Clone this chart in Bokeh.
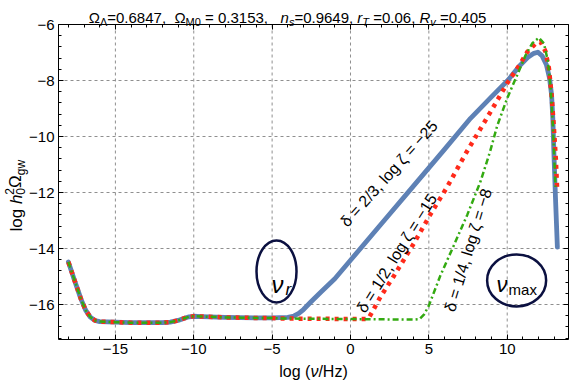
from bokeh.plotting import figure
from bokeh.models import Range1d, FixedTicker, LinearAxis, Label
from bokeh.embed import file_html
from bokeh.resources import INLINE

# ---------------- data ----------------
# common low-frequency part (all three curves coincide)
nu_low = [-18.0, -17.6, -17.2, -16.9, -16.6, -16.3, -16.0, -15.0, -14.0, -13.0,
          -12.0, -11.5, -11.0, -10.6, -10.3, -10.0, -9.5, -8.0, -7.0, -6.0, -5.0]
om_low = [-14.48, -15.15, -15.8, -16.2, -16.45, -16.57, -16.61, -16.63, -16.65, -16.65,
          -16.65, -16.63, -16.57, -16.49, -16.44, -16.42, -16.43, -16.46, -16.47, -16.48, -16.48]

# delta = 2/3, log zeta = -25
nu_blue = [-4.5, -4.0, -3.6, -3.3, -3.0, -2.55, -1.9, -1.0, 0.0, 2.0, 4.0, 6.0, 7.66, 8.93,
           10.0, 10.85, 11.3, 11.7, 11.95, 12.23, 12.5, 12.7, 12.83, 12.91, 12.98, 13.08, 13.2]
om_blue = [-16.47, -16.46, -16.41, -16.32, -16.18, -15.92, -15.56, -15.08, -14.42, -13.1, -11.78, -10.46, -9.35, -8.62,
           -8.02, -7.44, -7.18, -7.03, -6.99, -7.12, -7.44, -7.92, -8.51, -9.35, -10.6, -12.2, -13.95]

# delta = 1/2, log zeta = -15
nu_red = [-4.5, -2.0, 0.0, 1.0, 1.2, 1.4, 1.91, 2.77, 4.04, 5.1, 6.17, 7.34, 8.51, 9.26,
          10.0, 10.85, 11.28, 11.81, 12.13, 12.44, 12.66, 12.83, 12.98, 13.1, 13.18]
om_red = [-16.5, -16.51, -16.52, -16.52, -16.45, -16.25, -15.73, -14.98, -13.82, -12.78, -11.8, -10.62, -9.52, -8.81,
          -8.1, -7.39, -6.98, -6.68, -6.62, -6.96, -7.56, -8.51, -9.7, -10.78, -11.8]

# delta = 1/4, log zeta = -8
nu_green = [-4.5, 0.0, 2.0, 4.0, 4.4, 4.7, 5.0, 5.74, 6.6, 7.45, 8.3, 8.9, 9.36, 10.0,
            10.64, 11.17, 11.6, 12.02, 12.34, 12.6, 12.77, 12.9, 12.98, 13.08]
om_green = [-16.5, -16.52, -16.53, -16.54, -16.52, -16.35, -16.04, -14.96, -13.88, -12.8, -11.6, -10.55, -9.62, -8.63,
            -7.8, -7.1, -6.67, -6.47, -6.67, -7.32, -8.27, -9.46, -10.5, -11.8]

x_ticks = [-15, -10, -5, 0, 5, 10]
x_tick_labels = ["\u221215", "\u221210", "\u22125", "0", "5", "10"]
y_ticks = [-16, -14, -12, -10, -8, -6]
y_tick_labels = ["\u221216", "\u221214", "\u221212", "\u221210", "\u22128", "\u22126"]
y_grid = [-16, -14, -12, -10, -8]

curve_labels = ["\u03b4 = 2/3,  log \u03b6 = \u221225",
                "\u03b4 = 1/2,  log \u03b6 = \u221215",
                "\u03b4 = 1/4,  log \u03b6 = \u22128"]
curve_label_x = [2.55, 3.03, 7.55]
curve_label_y = [-11.27, -14.1, -13.98]
curve_label_angle = [48, 58, 73]

ell_x = [-4.72, 10.6]
ell_y = [-14.82, -15.14]
ell_w = [40, 59]
ell_h = [62, 52]

# ---------------- layout constants ----------------
FONT = "Liberation Sans"
W, H = 569, 382
X0, X1 = -18.63, 13.91          # data box (x)
Y0, Y1 = -17.25, -6.0           # data box (y)
BOX_L, BOX_R, BOX_T, BOX_B = 58, 568, 24, 339   # data box in pixels
sxu = (X1 - X0) / (BOX_R - BOX_L)
syu = (Y1 - Y0) / (BOX_B - BOX_T)
x_range = Range1d(X0 - BOX_L * sxu, X0 + (W - BOX_L) * sxu)
y_range = Range1d(Y0 - (H - BOX_B) * syu, Y1 + BOX_T * syu)

BLUE = "#5E81B5"
RED = "#FF2A1A"
GREEN = "#33AA11"
NAVY = "#0B1040"

CW = {' ': 278, ',': 278, '.': 278, '=': 584, 'n': 556, 's': 500, 'r': 333, 'T': 611,
      'R': 722, 'v': 500, 'M': 833, '\u039b': 667, '\u03a9': 748, 'l': 222, 'o': 556,
      'g': 556, 'h': 556, 'w': 722, '\u03bd': 500, 'a': 556, 'x': 500, 'm': 833,
      '(': 333, ')': 333, '/': 278, 'H': 722, 'z': 500}


def tw(s, size):
    return sum(CW.get(c, 556) for c in s) * size / 1000.0


p = figure(width=W, height=H, output_backend="svg", toolbar_location=None, title=None,
           x_range=x_range, y_range=y_range,
           min_border_left=0, min_border_right=0, min_border_top=0, min_border_bottom=0)
p.background_fill_color = "white"
p.border_fill_color = "white"
p.outline_line_color = None
p.xgrid.visible = False
p.ygrid.visible = False

x_minor = list(range(-18, 14))
y_minor = [round(-17.2 + 0.4 * i, 2) for i in range(29)]

# main axes, pinned to the edges of the data box
bx = p.xaxis[0]
ly = p.yaxis[0]
bx.fixed_location = Y0
bx.bounds = (X0, X1)
ly.fixed_location = X0
ly.bounds = (Y0, Y1)
for ax in (bx, ly):
    ax.major_label_text_font = FONT
    ax.major_label_text_font_size = "15px"
    ax.major_label_text_color = "black"
    ax.axis_line_color = "black"
    ax.major_tick_line_color = "black"
    ax.minor_tick_line_color = "black"
    ax.major_tick_in = 5
    ax.major_tick_out = 0
    ax.minor_tick_in = 3
    ax.minor_tick_out = 0
    ax.major_label_standoff = 4
bx.ticker = FixedTicker(ticks=x_ticks, minor_ticks=x_minor)
ly.ticker = FixedTicker(ticks=y_ticks, minor_ticks=y_minor)
bx.major_label_overrides = dict(zip(x_ticks, x_tick_labels))
ly.major_label_overrides = dict(zip(y_ticks, y_tick_labels))

# frame ticks on the top and right edges (no labels)
for side, loc, bnds, majors, minors in (("right", X1, (Y0, Y1), y_ticks, y_minor),
                                         ("above", Y1, (X0, X1), x_ticks, x_minor)):
    for mt, tl, lc in ((majors, 5, "black"), (minors, 3, None)):
        a = LinearAxis(ticker=FixedTicker(ticks=[], minor_ticks=mt), fixed_location=loc,
                       bounds=bnds, major_tick_in=0, major_tick_out=0,
                       minor_tick_in=tl, minor_tick_out=0, minor_tick_line_color="black",
                       axis_line_color=lc)
        p.add_layout(a, side)

# dashed grid lines inside the data box
p.segment(x0=x_ticks, y0=[Y0] * len(x_ticks), x1=x_ticks, y1=[Y1] * len(x_ticks),
          line_color="#8f8f8f", line_dash="3 3", line_width=1)
p.segment(x0=[X0] * len(y_grid), y0=y_grid, x1=[X1] * len(y_grid), y1=y_grid,
          line_color="#8f8f8f", line_dash="3 3", line_width=1)

# curves
p.line(nu_low + nu_blue, om_low + om_blue, line_color=BLUE, line_width=4.8,
       line_join="round", line_cap="round")
p.line(nu_low + nu_red, om_low + om_red, line_color=RED, line_width=4.5,
       line_dash="4 5")
p.line(nu_low + nu_green, om_low + om_green, line_color=GREEN, line_width=2.5,
       line_dash="6 3 2 3")

# ellipses
p.ellipse(x=ell_x, y=ell_y, width=ell_w, height=ell_h, width_units="screen",
          height_units="screen", fill_alpha=0, line_color=NAVY, line_width=2.5)

# curve labels
for t, lx, ly_, ang in zip(curve_labels, curve_label_x, curve_label_y, curve_label_angle):
    p.add_layout(Label(x=lx, y=ly_, text=t, angle=ang, angle_units="deg",
                       text_align="center", text_baseline="middle",
                       text_font=FONT, text_font_size="16px", text_color="black"))


def dlabel(x, y, text, size, style, dx, dy):
    p.add_layout(Label(x=x, y=y, x_offset=dx, y_offset=dy, text=text,
                       text_font=FONT, text_font_size=size, text_font_style=style,
                       text_align="left", text_baseline="alphabetic", text_color="black"))


dlabel(ell_x[0], ell_y[0], "\u03bd", "24px", "italic", -5, -13)
dlabel(ell_x[0], ell_y[0], "r", "17px", "italic", 9, -18)
dlabel(ell_x[1], ell_y[1], "\u03bd", "22px", "italic", -20, -4)
dlabel(ell_x[1], ell_y[1], "max", "15px", "normal", -8, -9)


# composite texts placed in canvas pixels (frame == whole canvas)
def run(pieces, wx0, wy0, vertical=False):
    pos = 0.0
    for txt, size, style, shift, advance in pieces:
        lead = len(txt) - len(txt.lstrip(" "))
        start = pos + tw(" " * lead, size)
        if vertical:
            x, y, ang = wx0 - shift, (H - wy0) + start, 90
        else:
            x, y, ang = wx0 + start, (H - wy0) + shift, 0
        p.add_layout(Label(x=x, y=y, x_units="screen", y_units="screen", text=txt.strip(" "),
                           angle=ang, angle_units="deg", text_font=FONT,
                           text_font_size=f"{size}px", text_font_style=style,
                           text_align="left", text_baseline="alphabetic", text_color="black"))
        if advance:
            pos += tw(txt, size)


title_pieces = [("\u03a9", 15, "normal", 0, True), ("\u039b", 11, "normal", -4, True),
                ("=0.6847,", 15, "normal", 0, True), ("  \u03a9", 15, "normal", 0, True),
                ("M0", 11, "normal", -4, True), (" = 0.3153,", 15, "normal", 0, True),
                ("   n", 15, "italic", 0, True), ("s", 11, "italic", -4, True),
                ("=0.9649,", 15, "normal", 0, True), (" r", 15, "italic", 0, True),
                ("T", 11, "italic", -4, True), (" =0.06,", 15, "normal", 0, True),
                (" R", 15, "italic", 0, True), ("v", 11, "italic", -4, True),
                (" =0.405", 15, "normal", 0, True)]
title_w = sum(tw(t[0], t[1]) for t in title_pieces)
run(title_pieces, 287 - title_w / 2, 17)

xl_pieces = [("log (", 16, "normal", 0, True), ("\u03bd", 16, "italic", 0, True),
             ("/Hz)", 16, "normal", 0, True)]
xl_w = sum(tw(t[0], t[1]) for t in xl_pieces)
run(xl_pieces, 313 - xl_w / 2, 371)

yl_pieces = [("log ", 17, "normal", 0, True), ("h", 17, "italic", 0, True),
             ("0", 12, "normal", -4, False), ("2", 12, "normal", 7, True),
             ("\u03a9", 17, "normal", 1, True), ("gw", 12, "normal", -4, True)]
run(yl_pieces, 16, 231, vertical=True)

open("out.html", "w").write(file_html(p, INLINE))
